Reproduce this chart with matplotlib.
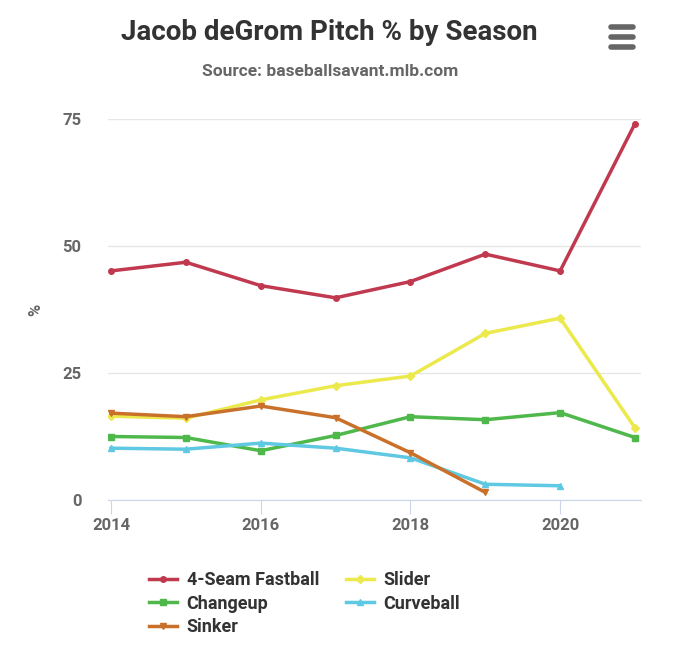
import matplotlib
matplotlib.use("Agg")
import matplotlib.pyplot as plt
from matplotlib.lines import Line2D

plt.rcParams['font.family'] = ['Roboto', 'DejaVu Sans']

years = [2014, 2015, 2016, 2017, 2018, 2019, 2020, 2021]
fastball = [45.1, 46.8, 42.2, 39.8, 43.0, 48.4, 45.1, 74.1]
slider = [16.5, 16.1, 19.7, 22.5, 24.4, 32.8, 35.8, 14.2]
changeup = [12.5, 12.3, 9.7, 12.7, 16.4, 15.8, 17.2, 12.3]
sinker = [17.1, 16.4, 18.5, 16.2, 9.3, 1.5]
curveball = [10.2, 10.0, 11.2, 10.2, 8.3, 3.1, 2.8]

series = [
    ("4-Seam Fastball", fastball, "#c0394f", "o"),
    ("Slider", slider, "#ebe94c", "D"),
    ("Changeup", changeup, "#4fb84b", "s"),
    ("Curveball", curveball, "#5fc8e2", "^"),
    ("Sinker", sinker, "#c9712b", "v"),
]

fig = plt.figure(figsize=(6.8, 6.54), dpi=100)
ax = fig.add_axes([108 / 680, 1 - 500 / 654, (641 - 108) / 680, (500 - 119) / 654])

for name, vals, color, marker in series:
    ax.plot(years[:len(vals)], vals, color=color, lw=2.5, marker=marker,
            ms=4, label=name, solid_joinstyle='round')

ax.set_xlim(2013.96, 2021.08)
ax.set_ylim(0, 75)
ax.set_yticks([0, 25, 50, 75])
ax.set_xticks([2014, 2016, 2018, 2020])
ax.grid(axis='y', color='#e6e6e6', lw=1)
ax.set_axisbelow(True)
for s in ['top', 'right', 'left']:
    ax.spines[s].set_visible(False)
ax.spines['bottom'].set_color('#ccd6eb')
ax.tick_params(axis='y', length=0, pad=19, labelsize=12, labelcolor='#666666')
ax.tick_params(axis='x', length=10, color='#ccd6eb', labelsize=12, labelcolor='#666666', pad=3)
for t in ax.get_xticklabels() + ax.get_yticklabels():
    t.set_fontweight('bold')
ax.set_ylabel('%', fontsize=12, color='#666666', fontweight='bold', labelpad=14)

fig.text(0.485, 1 - 32 / 654, 'Jacob deGrom Pitch % by Season', ha='center', va='center',
         fontsize=20, fontweight='bold', color='#333333')
fig.text(0.485, 1 - 72 / 654, 'Source: baseballsavant.mlb.com', ha='center', va='center',
         fontsize=12.5, fontweight='bold', color='#666666')

# menu icon
for yy in [27, 37, 47]:
    fig.add_artist(Line2D([611 / 680, 633 / 680], [1 - yy / 654] * 2, color='#666666',
                          lw=4, solid_capstyle='round'))

order = [0, 2, 4, 1, 3]
handles, labels = ax.get_legend_handles_labels()
leg = fig.legend([handles[i] for i in order], [labels[i] for i in order], ncol=2,
                 loc='upper left', bbox_to_anchor=(133 / 680, 1 - 555 / 654), frameon=False,
                 prop={'weight': 'bold', 'size': 13}, handlelength=1.55, columnspacing=1.5,
                 labelspacing=0.3, handletextpad=0.52)
for t in leg.get_texts():
    t.set_color('#333333')

fig.savefig('out.png', dpi=100, facecolor='white')
